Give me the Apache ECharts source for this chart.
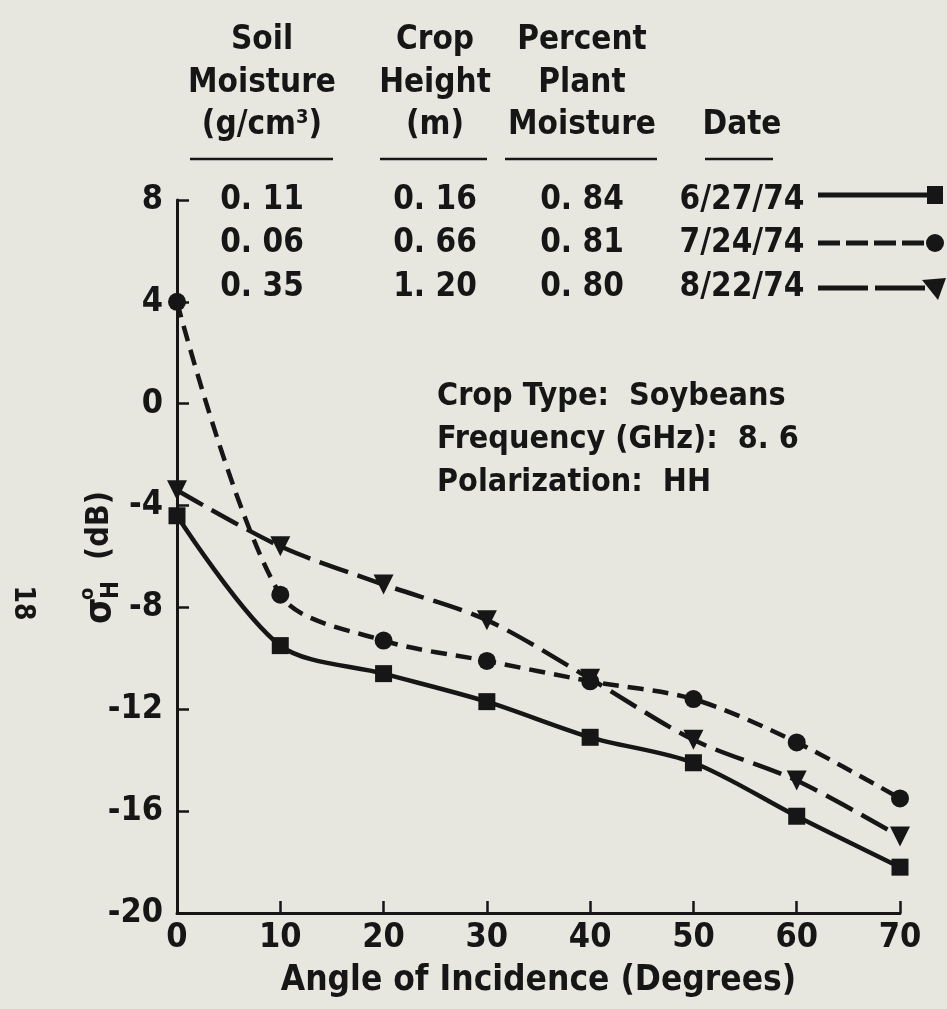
<!DOCTYPE html>
<html>
<head>
<meta charset="utf-8">
<script src="https://cdn.jsdelivr.net/npm/echarts@6/dist/echarts.min.js"></script>
<style>
html, body { margin: 0; padding: 0; background: #e7e7e0; }
#chart { width: 947px; height: 1009px; }
</style>
</head>
<body>
<div id="chart"></div>
<script>
// angle of incidence (deg)
const angles = [0, 10, 20, 30, 40, 50, 60, 70]
// sigma HH (dB) per date
const june27 = [-4.4, -9.5, -10.6, -11.7, -13.1, -14.1, -16.2, -18.2]
const july24 = [4.0, -7.5, -9.3, -10.1, -10.9, -11.6, -13.3, -15.5]
const aug22 = [-3.4, -5.6, -7.1, -8.5, -10.8, -13.2, -14.8, -17.0]

// table above the plot
const headSoil = ['Soil', 'Moisture', '(g/cm{sup|3})']
const headHeight = ['Crop', 'Height', '(m)']
const headPlant = ['Percent', 'Plant', 'Moisture']
const headDate = ['', '', 'Date']
const soilMoisture = ['0. 11', '0. 06', '0. 35']
const cropHeight = ['0. 16', '0. 66', '1. 20']
const plantMoisture = ['0. 84', '0. 81', '0. 80']
const dates = ['6/27/74', '7/24/74', '8/22/74']
const notes = ['Crop Type:  Soybeans', 'Frequency (GHz):  8. 6', 'Polarization:  HH']

const INK = '#161616'
const FONT = '"Liberation Sans Narrow", "DejaVu Sans Condensed", sans-serif'

const chart = echarts.init(document.getElementById('chart'))

const series = [
  { name: dates[0], data: june27, symbol: 'rect', symbolSize: 17, dash: 'solid' },
  { name: dates[1], data: july24, symbol: 'circle', symbolSize: 18, dash: [16, 9] },
  { name: dates[2], data: aug22, symbol: 'triangle', symbolSize: 20, symbolRotate: 180, dash: [30, 10] }
].map(s => ({
  name: s.name,
  type: 'line',
  data: angles.map((a, i) => [a, s.data[i]]),
  smooth: 0.3,
  symbol: s.symbol,
  symbolSize: s.symbolSize,
  symbolRotate: s.symbolRotate || 0,
  itemStyle: { color: INK },
  lineStyle: { color: INK, width: 4.5, type: s.dash },
  z: 3
}))

// table text
const txt = (x, y, text, align, size) => ({
  type: 'text', x, y,
  style: {
    text, font: 'bold ' + (size || 33) + 'px ' + FONT, fill: INK,
    textAlign: align || 'center', textVerticalAlign: 'middle',
    rich: { sup: { font: 'bold 20px ' + FONT, fill: INK, verticalAlign: 'top', padding: [0, 0, 14, 0] } }
  }
})
const graphics = []
const cols = [
  { x: 262, head: headSoil, vals: soilMoisture, line: [190, 333] },
  { x: 435, head: headHeight, vals: cropHeight, line: [380, 487] },
  { x: 582, head: headPlant, vals: plantMoisture, line: [505, 657] },
  { x: 742, head: headDate, vals: dates, line: [705, 773] }
]
const headY = [40, 83, 125]
const rowY = [200, 243, 287]
cols.forEach(c => {
  c.head.forEach((h, i) => { if (h) graphics.push(txt(c.x, headY[i], h)) })
  c.vals.forEach((v, i) => graphics.push(txt(c.x, rowY[i], v)))
  graphics.push({ type: 'line', shape: { x1: c.line[0], y1: 159, x2: c.line[1], y2: 159 }, style: { stroke: INK, lineWidth: 2.5 } })
})
notes.forEach((n, i) => graphics.push(txt(437, 397 + i * 43, n, 'left', 32)))

// legend samples next to the dates
const legY = [195, 243, 288]
const legDash = [null, [22, 6], [50, 7]]
legY.forEach((y, i) => {
  graphics.push({ type: 'line', shape: { x1: 818, y1: y, x2: 934, y2: y }, style: { stroke: INK, lineWidth: 5, lineDash: legDash[i] } })
})
graphics.push({ type: 'rect', shape: { x: 927, y: legY[0] - 9, width: 16, height: 18 }, style: { fill: INK } })
graphics.push({ type: 'circle', shape: { cx: 935, cy: legY[1], r: 9 }, style: { fill: INK } })
graphics.push({ type: 'polygon', shape: { points: [[922, legY[2] - 8], [946, legY[2] - 10], [938, legY[2] + 12]] }, style: { fill: INK } })

// y axis title, rotated
graphics.push({
  type: 'group', x: 100, y: 624, rotation: Math.PI / 2,
  children: [
    { type: 'text', x: 0, y: 0, style: { text: 'σ', font: 'bold 38px ' + FONT, fill: INK, textVerticalAlign: 'middle' } },
    { type: 'text', x: 24, y: -12, style: { text: 'o', font: 'bold 20px ' + FONT, fill: INK, textVerticalAlign: 'middle' } },
    { type: 'text', x: 25, y: 12, style: { text: 'H', font: 'bold 24px ' + FONT, fill: INK, textVerticalAlign: 'middle' } },
    { type: 'text', x: 64, y: 0, style: { text: '(dB)', font: 'bold 32px ' + FONT, fill: INK, textVerticalAlign: 'middle' } }
  ]
})

// page number
graphics.push({ type: 'text', x: 22, y: 603, rotation: -Math.PI / 2, style: { text: '18', font: 'bold 28px ' + FONT, fill: INK, textAlign: 'center', textVerticalAlign: 'middle' } })

const axisCommon = {
  axisLine: { show: true, onZero: false, lineStyle: { color: INK, width: 3 } },
  axisTick: { show: true, inside: true, length: 12, lineStyle: { color: INK, width: 2.5 } },
  axisLabel: { color: INK, fontFamily: FONT, fontSize: 34, fontWeight: 'bold' },
  splitLine: { show: false }
}

chart.setOption({
  backgroundColor: '#e7e7e0',
  animation: false,
  grid: { left: 177, right: 47, top: 200, bottom: 96, containLabel: false, outerBoundsMode: 'none' },
  xAxis: {
    type: 'value', min: 0, max: 70, interval: 10,
    name: 'Angle of Incidence (Degrees)',
    nameLocation: 'middle', nameGap: 50,
    nameTextStyle: { color: INK, fontFamily: FONT, fontSize: 35, fontWeight: 'bold' },
    ...axisCommon,
    axisLabel: { ...axisCommon.axisLabel, margin: 8 }
  },
  yAxis: {
    type: 'value', min: -20, max: 8, interval: 4,
    ...axisCommon,
    axisLabel: { ...axisCommon.axisLabel, margin: 14 }
  },
  series,
  graphic: graphics
})
</script>
</body>
</html>
